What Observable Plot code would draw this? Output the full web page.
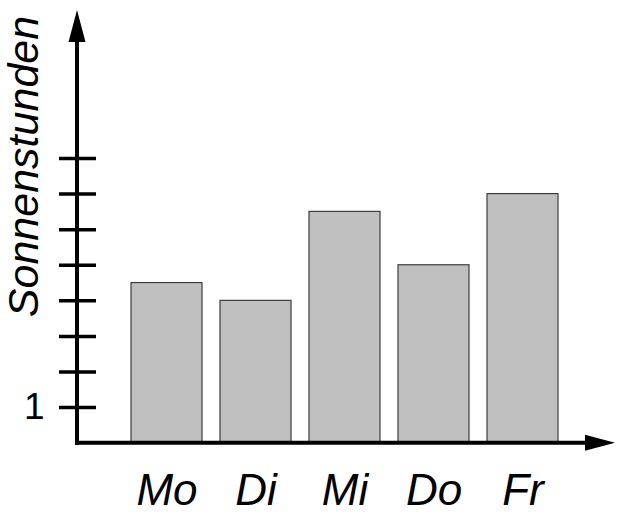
<!DOCTYPE html>
<html><head><meta charset="utf-8">
<script src="https://cdn.jsdelivr.net/npm/d3@7"></script>
<script src="https://cdn.jsdelivr.net/npm/@observablehq/plot@0.6"></script>
<style>body{margin:0;background:#fff} svg{display:block}</style>
</head><body><div id="chart"></div>
<script>
const days = ["Mo", "Di", "Mi", "Do", "Fr"];
const hours = [4.5, 4, 6.5, 5, 7];
const yTicks = [1, 2, 3, 4, 5, 6, 7, 8];
const yTickLabels = ["1", "", "", "", "", "", "", ""];
const yLabel = "Sonnenstunden";

const data = days.map((d, i) => ({day: d, hours: hours[i]}));

function axes(index, scales, values, dims) {
  const g = d3.create("svg:g");
  const x0 = dims.marginLeft, xe = dims.width - dims.marginRight;
  const yb = scales.y(0), yt = dims.marginTop;
  g.append("line").attr("x1", x0 - 2).attr("x2", xe - 20).attr("y1", yb).attr("y2", yb)
    .attr("stroke", "#000").attr("stroke-width", 4);
  g.append("line").attr("x1", x0).attr("x2", x0).attr("y1", yb + 2).attr("y2", yt + 20)
    .attr("stroke", "#000").attr("stroke-width", 4);
  g.append("path").attr("d", `M${x0},${yt}L${x0 + 8.5},${yt + 32}L${x0 - 8.5},${yt + 32}Z`).attr("fill", "#000");
  g.append("path").attr("d", `M${xe},${yb}L${xe - 30},${yb - 8}L${xe - 30},${yb + 8}Z`).attr("fill", "#000");
  return g.node();
}

const chart = Plot.plot({
  width: 620, height: 521,
  marginLeft: 77, marginRight: 5, marginTop: 10, marginBottom: 78,
  style: {fontFamily: "'Liberation Sans', Arial, sans-serif", background: "#fff", color: "#000"},
  x: {domain: days, range: [130.7, 558], paddingInner: 0.2, paddingOuter: 0},
  y: {domain: [0, 8], range: [442.7, 158]},
  marks: [
    Plot.barY(data, {x: "day", y: "hours", fill: "#c0c0c0", stroke: "#3c3c3c", strokeWidth: 1.2}),
    Plot.axisY({ticks: yTicks, tickSize: 37, dx: 19, tickPadding: 15,
      tickFormat: d => yTickLabels[yTicks.indexOf(d)], fontSize: 37, strokeWidth: 3.5, label: null}),
    Plot.axisX({tickSize: 0, tickPadding: 30, fontSize: 44, fontStyle: "italic", label: null}),
    Plot.text([yLabel], {frameAnchor: "top-left", text: d => d, rotate: -90, dx: -70, dy: 156,
      textAnchor: "middle", fontSize: 43, fontStyle: "italic", fill: "#000"}),
    axes
  ]
});
document.getElementById("chart").append(chart);
</script>
</body></html>
